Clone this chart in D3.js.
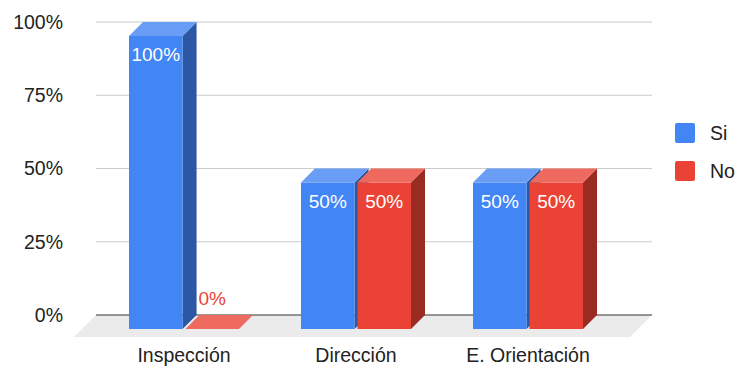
<!DOCTYPE html>
<html>
<head>
<meta charset="utf-8">
<script src="https://cdn.jsdelivr.net/npm/d3@7"></script>
<style>
  html, body { margin: 0; padding: 0; background: #ffffff; }
  svg { display: block; font-family: "Liberation Sans", Arial, Helvetica, sans-serif; }
</style>
</head>
<body>
<svg id="chart" width="737" height="369"></svg>
<script>
// Chart data
const categories = ["Inspección", "Dirección", "E. Orientación"];
const seriesNames = ["Si", "No"];
const siValues = [1.0, 0.5, 0.5];
const noValues = [0.0, 0.5, 0.5];
const yTicks = [0, 0.25, 0.5, 0.75, 1.0];

const colors = {
  Si: { front: "#4285f4", side: "#2b57a4", top: "#6a9ef6" },
  No: { front: "#ea4335", side: "#992b22", top: "#ee6a5e" }
};

const svg = d3.select("#chart");

// Plot geometry: back plane of the 3D box, plus depth offsets
const backLeft = 96, backRight = 652;
const depthX = 14, depthY = 14;      // bar depth (front -> back)
const floorDepth = 22;               // floor depth below the baseline

const y = d3.scaleLinear().domain([0, 1]).range([315, 22]);

// Front-face horizontal positions of the category groups
const x0 = d3.scaleBand().domain(categories).range([98, 614]);
const x1 = d3.scaleBand().domain(seriesNames).range([0, 110]).paddingInner(0.05);

const data = categories.map((c, i) => ({
  category: c,
  values: [
    { series: "Si", value: siValues[i] },
    { series: "No", value: noValues[i] }
  ]
}));

// Floor
const fy0 = y(0);
svg.append("path")
  .attr("d", `M${backLeft},${fy0} L${backRight},${fy0} L${backRight - floorDepth},${fy0 + floorDepth} L${backLeft - floorDepth},${fy0 + floorDepth} Z`)
  .attr("fill", "#ebebeb");

// Gridlines on the back plane
svg.append("g")
  .selectAll("line")
  .data(yTicks.filter(t => t > 0))
  .join("line")
  .attr("x1", backLeft).attr("x2", backRight)
  .attr("y1", d => y(d)).attr("y2", d => y(d))
  .attr("stroke", "#cccccc").attr("stroke-width", 1.2);

// Baseline
svg.append("line")
  .attr("x1", backLeft).attr("x2", backRight)
  .attr("y1", y(0)).attr("y2", y(0))
  .attr("stroke", "#333333").attr("stroke-width", 1.2);

// Y axis labels
const yAxis = d3.axisLeft(y).tickValues(yTicks).tickFormat(d3.format(".0%")).tickSize(0).tickPadding(0);
const yAxisG = svg.append("g").attr("transform", "translate(63,0)").call(yAxis);
yAxisG.select(".domain").remove();
yAxisG.selectAll("text")
  .attr("font-size", 19.5)
  .attr("font-family", "Liberation Sans, Arial, sans-serif")
  .attr("fill", "#222222");

// Bars
const groups = svg.append("g").selectAll("g")
  .data(data)
  .join("g")
  .attr("transform", d => `translate(${x0(d.category) + x0.bandwidth() / 2 - 55},0)`);

groups.each(function (d) {
  const g = d3.select(this);
  d.values.forEach(v => {
    const c = colors[v.series];
    const xl = x1(v.series);
    const xr = xl + x1.bandwidth();
    const yb = y(0) + depthY;             // front bottom
    const yt = y(v.value) + depthY;       // front top
    const bar = g.append("g");
    if (v.value > 0) {
      // side face
      bar.append("path")
        .attr("d", `M${xr},${yt} L${xr + depthX},${yt - depthY} L${xr + depthX},${yb - depthY} L${xr},${yb} Z`)
        .attr("fill", c.side);
      // front face
      bar.append("rect")
        .attr("x", xl).attr("y", yt)
        .attr("width", xr - xl).attr("height", yb - yt)
        .attr("fill", c.front);
    }
    // top face
    bar.append("path")
      .attr("d", `M${xl},${yt} L${xl + depthX},${yt - depthY} L${xr + depthX},${yt - depthY} L${xr},${yt} Z`)
      .attr("fill", c.top);

    // value label
    const label = d3.format(".0%")(v.value);
    bar.append("text")
      .attr("x", (xl + xr) / 2)
      .attr("y", v.value > 0 ? yt + 25 : yt - 24)
      .attr("text-anchor", "middle")
      .attr("font-size", 19)
      .attr("fill", v.value > 0 ? "#ffffff" : c.front)
      .text(label);
  });
});

// Category labels
svg.append("g")
  .selectAll("text")
  .data(categories)
  .join("text")
  .attr("x", d => x0(d) + x0.bandwidth() / 2)
  .attr("y", 362)
  .attr("text-anchor", "middle")
  .attr("font-size", 19.5)
  .attr("fill", "#222222")
  .text(d => d);

// Legend
const legend = svg.append("g").attr("transform", "translate(675,123)");
const items = legend.selectAll("g")
  .data(seriesNames)
  .join("g")
  .attr("transform", (d, i) => `translate(0,${i * 38})`);
items.append("rect")
  .attr("width", 20).attr("height", 20)
  .attr("rx", 2)
  .attr("fill", d => colors[d].front);
items.append("text")
  .attr("x", 35).attr("y", 16.5)
  .attr("font-size", 19.5)
  .attr("fill", "#222222")
  .text(d => d);
</script>
</body>
</html>
